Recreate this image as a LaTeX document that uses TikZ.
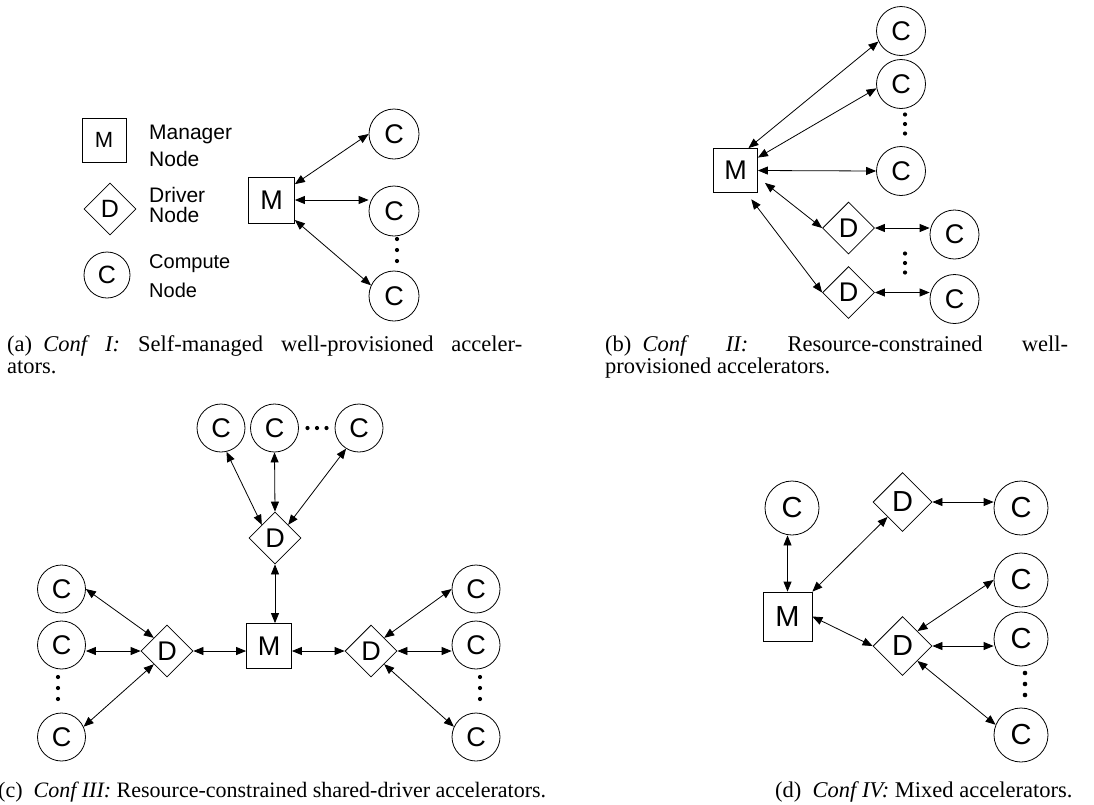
\documentclass[tikz,border=0pt]{standalone}
\usepackage{fontspec}
\setmainfont{Liberation Serif}
\newfontfamily\lblfont{Liberation Sans}
\usetikzlibrary{arrows.meta, shapes.geometric}

\begin{document}
\begin{tikzpicture}[x=1pt, y=-1pt,
  every node/.style={font=\lblfont\fontsize{27}{30}\selectfont},
  mgr/.style={draw, line width=0.8pt, minimum size=45pt, inner sep=0pt},
  drv/.style={draw, diamond, aspect=1, line width=0.8pt, minimum size=52pt, inner sep=0pt},
  cmp/.style={draw, circle, line width=0.8pt, minimum size=49pt, inner sep=0pt},
  link/.style={{Triangle[length=10pt,width=8pt]}-{Triangle[length=10pt,width=8pt]}, line width=0.8pt},
  legtxt/.style={align=left, anchor=north west, inner sep=0pt},
  captxt/.style={font=\fontsize{22.5}{22.5}\selectfont, align=justify, anchor=north west, inner sep=0pt}]
  \useasboundingbox (0,0) rectangle (1094,804);

  % (a) legend and self-managed
  \node[mgr, minimum size=44pt, font=\lblfont\fontsize{22}{24}\selectfont] (legM) at (104,140) {M};
  \node[drv, font=\lblfont\fontsize{25}{28}\selectfont] (legD) at (110,209) {D};
  \node[cmp, minimum size=46pt, font=\lblfont\fontsize{25}{28}\selectfont] (legC) at (107,275) {C};
  \node[legtxt, font=\lblfont\fontsize{21}{20}\selectfont] (legMt) at (149,125) {Manager\\[7pt]Node};
  \node[legtxt, font=\lblfont\fontsize{21}{20}\selectfont] (legDt) at (149,187) {Driver\\Node};
  \node[legtxt, font=\lblfont\fontsize{20}{20}\selectfont] (legCt) at (149,254) {Compute\\[9pt]Node};

  \node[mgr, minimum size=46pt] (mA) at (271.5,200) {M};
  \node[cmp, minimum size=50pt] (cA1) at (394,134) {C};
  \node[cmp, minimum size=50pt] (cA2) at (394,211) {C};
  \node[cmp, minimum size=50pt] (cA3) at (394,296) {C};
  \coordinate (dotsA) at (397,250);
  \foreach \k in {-11,0,11} \fill (dotsA) ++(0,\k) circle (2.1pt);
  \draw[link] (mA) -- (cA1.west);
  \draw[link] (mA.east) -- (mA.east -| cA2.west);
  \draw[link] (mA) -- (cA3.155);

  % (b) resource-constrained well-provisioned
  \node[mgr, minimum size=44pt] (mB) at (735.5,170.5) {M};
  \node[cmp] (cB1) at (901,31) {C};
  \node[cmp] (cB2) at (901,84) {C};
  \node[cmp] (cB3) at (901,171) {C};
  \node[drv] (dB1) at (848.5,228) {D};
  \node[drv] (dB2) at (848.5,292.5) {D};
  \node[cmp] (cB4) at (954.5,234.5) {C};
  \node[cmp] (cB5) at (954.5,299) {C};
  \coordinate (dotsB1) at (905,124);
  \coordinate (dotsB2) at (905,263);
  \foreach \k in {-9.5,0,9.5} {
    \fill (dotsB1) ++(0,\k) circle (2.1pt);
    \fill (dotsB2) ++(0,\k) circle (2.1pt);
  }
  \draw[link] (mB.60) -- (cB1.205);
  \draw[link] (mB.30) -- (cB2.190);
  \draw[link] (mB.east) -- (cB3.west);
  \draw[link, shorten <=9pt] (mB.-17) -- (dB1.west);
  \draw[link, shorten <=8pt] (mB.-64) -- (dB2.west);
  \draw[link] (dB1.east) -- (dB1.east -| cB4.west);
  \draw[link] (dB2.east) -- (dB2.east -| cB5.west);

  % (c) shared-driver
  \node[cmp, minimum size=48pt] (tC1) at (221,428) {C};
  \node[cmp, minimum size=48pt] (tC2) at (274.5,428) {C};
  \node[cmp, minimum size=48pt] (tC3) at (359,428) {C};
  \coordinate (dotsC1) at (317,428);
  \foreach \k in {-9.5,0,9.5} \fill (dotsC1) ++(\k,0) circle (2.1pt);
  \node[drv] (tD) at (275,538) {D};
  \node[mgr] (mC) at (269,646) {M};
  \node[drv] (lD) at (167,651) {D};
  \node[drv] (rD) at (371,651) {D};
  \node[cmp, minimum size=48pt] (lC1) at (61.5,589) {C};
  \node[cmp, minimum size=48pt] (lC2) at (61.5,645) {C};
  \node[cmp, minimum size=48pt] (lC3) at (61.5,737) {C};
  \node[cmp, minimum size=48pt] (rC1) at (476,589) {C};
  \node[cmp, minimum size=48pt] (rC2) at (476,645) {C};
  \node[cmp, minimum size=48pt] (rC3) at (476,737) {C};
  \coordinate (dotsC2) at (58,688);
  \coordinate (dotsC3) at (480,688);
  \foreach \k in {-11,0,11} {
    \fill (dotsC2) ++(0,\k) circle (2.1pt);
    \fill (dotsC3) ++(0,\k) circle (2.1pt);
  }
  \draw[link] (tC1.-77) -- (tD.north west);
  \draw[link] (tC2.south) -- (tD.north);
  \draw[link] (tC3.-122) -- (tD.north east);
  \draw[link] (tD.south) -- (tD.south |- mC.north);
  \draw[link] (lD.east) -- (lD.east -| mC.west);
  \draw[link] (rD.west -| mC.east) -- (rD.west);
  \draw[link] (lC1.east) -- (lD.north west);
  \draw[link] (lD.west -| lC2.east) -- (lD.west);
  \draw[link] (lC3.25) -- (lD.south west);
  \draw[link] (rD.north east) -- (rC1.west);
  \draw[link] (rD.east) -- (rD.east -| rC2.west);
  \draw[link] (rD.south east) -- (rC3.155);

  % (d) mixed
  \begin{scope}[every node/.style={font=\lblfont\fontsize{29}{32}\selectfont}]
    \node[cmp, minimum size=54pt] (cD0) at (792,508) {C};
    \node[mgr, minimum size=49pt] (mD) at (787.5,616.5) {M};
    \node[drv, minimum size=59pt] (dD1) at (902.5,502) {D};
    \node[cmp, minimum size=54pt] (cD1) at (1021,508) {C};
    \node[drv, minimum size=59pt] (dD2) at (902.5,646) {D};
    \node[cmp, minimum size=54pt] (cD2) at (1021,580) {C};
    \node[cmp, minimum size=54pt] (cD3) at (1021,639) {C};
    \node[cmp, minimum size=54pt] (cD4) at (1021,735) {C};
  \end{scope}
  \coordinate (dotsD) at (1025,684);
  \foreach \k in {-11,0,11} \fill (dotsD) ++(0,\k) circle (2.3pt);
  \draw[link] (mD.north) -- (mD.north |- cD0.south);
  \draw[link] (mD.north east) -- (dD1.south west);
  \draw[link] (dD1.east) -- (dD1.east -| cD1.west);
  \draw[link] (mD.east) -- (dD2.west);
  \draw[link] (dD2.north east) -- (cD2.west);
  \draw[link] (dD2.east) -- (dD2.east -| cD3.west);
  \draw[link] (dD2.south east) -- (cD4.158);

  % captions
  \node[captxt, text width=515pt] (capA) at (7,335)
    {(a)\enspace\textit{Conf I:} Self-managed well-provisioned acceler-\linebreak ators.};
  \node[captxt, text width=463pt] (capB) at (605,335)
    {(b)\enspace\textit{Conf II:} Resource-constrained well-\linebreak provisioned accelerators.};
  \node[captxt, font=\fontsize{22}{24}\selectfont, anchor=base west] (capC) at (-2,797)
    {(c)\enspace\textit{Conf III:} Resource-constrained shared-driver accelerators.};
  \node[captxt, font=\fontsize{22.5}{24}\selectfont, anchor=base west] (capD) at (775,797)
    {(d)\enspace\textit{Conf IV:} Mixed accelerators.};
\end{tikzpicture}
\end{document}
